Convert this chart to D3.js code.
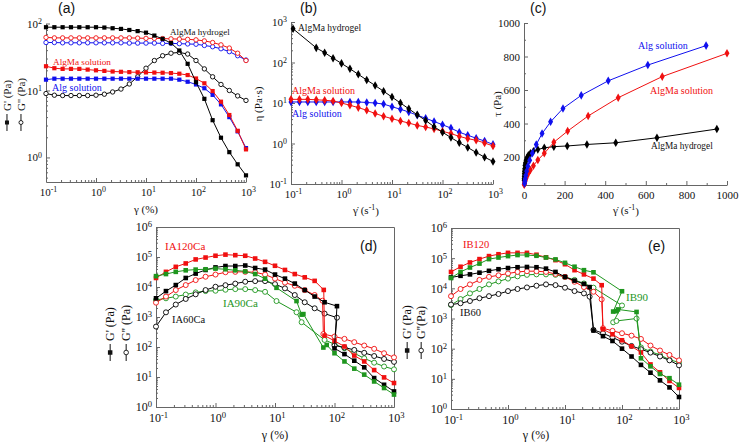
<!DOCTYPE html>
<html><head><meta charset="utf-8">
<script src="https://cdn.jsdelivr.net/npm/d3@7"></script>
<style>body{margin:0;background:#fff}svg{display:block}
.serif{font-family:"Liberation Serif","Times New Roman","DejaVu Serif",serif}
.sans{font-family:"Liberation Sans",Arial,"DejaVu Sans",sans-serif}
</style>
</head><body>
<svg id="c" width="739" height="444"></svg>
<script>
// ---------------- DATA ----------------
const grid = [0.1,0.147,0.215,0.316,0.464,0.681,1,1.47,2.15,3.16,4.64,6.81,10,14.7,21.5,31.6,46.4,68.1,100,147,215,316,464,681,1000];

// (a) amplitude sweep
const aHydroGp  = [88,88,88,88,88,88,88,87,85,83,80,77,73,66,59,51,39.5,25,13.3,7.5,3.6,1.97,1.2,0.79,0.54];
const aHydroGpp = [9,8.5,8.4,8.4,8.4,8.4,8.5,8.8,9.5,10.5,12.5,16,21.5,28,33,36,37,35,28,21,16,12.3,10,8.3,7.1];
const aAlgMaGp  = [23,21.5,21,21,21,20.5,20,19.6,19.2,19,18.8,18.7,18.6,18.5,18.4,18.2,17.8,17,15.1,12.8,9.8,6.8,4.3,2.5,1.32];
const aAlgMaGpp = [62,61,61,61,61,61,61,61,61,61,61,60.5,60,60,59.5,59,58.5,58,57,55,52,48,43,36,28];
const aAlgGp    = [14.5,15,15,15,15,15,15,15,15,15,15,15,15,15,15,15,14.5,13.5,12.3,10.8,8.6,6.2,4.0,2.45,1.38];
const aAlgGpp   = [52,52,51.5,51.5,51.5,51.5,51.5,51.5,51.5,51.5,51,51,51,51,50.5,50.5,50,49.5,49,47,45,42,38,33,28.5];

// (b) viscosity
const bHydroX = [0.11,0.316,0.464,0.681,1,1.47,2.15,3.16,4.64,6.81,10,14.7,21.5,31.6,46.4,68.1,100,147,215,316,464,681,1000];
const bHydro  = [680,230,175,128,95,70,51,37,27,19.5,14,10,7.2,5.1,3.7,2.6,1.9,1.4,1.05,0.8,0.6,0.46,0.36];
const bAlgMa  = [12.3,12.3,12.3,12.0,11.7,11.2,10.0,8.8,7.7,6.6,5.5,4.7,4.1,3.6,3.2,2.8,2.55,2.3,2.0,1.76,1.5,1.32,1.2,1.03,0.87];
const bAlg    = [10.6,10.6,10.6,10.6,10.6,10.6,10.6,10.6,10.6,10.3,10,9.4,8.1,7.0,6.0,5.0,4.2,3.5,2.9,2.4,1.9,1.6,1.35,1.15,0.95];

// (c) flow curves
const cAlgX    = [897,610,415,282,192,131,89,60.5,41.2,28,19,13,8.8,6,4.1,2.8];
const cAlg     = [865,749,655,568,490,410,340,275,222,180,145,115,90,70,55,42];
const cAlgMaX  = [1000,681,464,316,215,147,100,68.1,46.4,31.6,21.5,14.7,10,6.81,4.64,3.16,2.15,1.47,1];
const cAlgMa   = [819,680,554,445,355,288,222,182,148,122,103,87,73,63,54,47,42,38,35];
const cHydroX  = [950,655,452,310,213,147,100,68.1,46.4,31.6,21.5,14.7,10,6.81,4.64,3.16,2.15,1.47,1,0.681,0.464];
const cHydro   = [367,315,285,275,266,262,255,245,235,222,210,195,180,165,150,130,115,100,85,72,62];

// (d) IA series
const dIA120GpX  = [0.1,0.147,0.215,0.316,0.464,0.681,1,1.47,2.15,3.16,4.64,6.81,10,14.7,21.5,31.6,46.4,66,68,100,147,215,316,464,681,1000];
const dIA120Gp   = [2.0e4,3.2e4,4.7e4,6.1e4,8.3e4,9.6e4,1.1e5,1.2e5,1.15e5,1.1e5,8.9e4,6.9e4,5.1e4,3.7e4,2.7e4,2.1e4,1.6e4,8.0e3,240,160,104,52,33,17,9.7,6.3];
const dIA120GppX = [0.1,0.147,0.215,0.316,0.464,0.681,1,1.47,2.15,3.16,4.64,6.81,10,14.7,21.5,31.6,46.4,63,65,100,147,215,316,464,681,1000];
const dIA120Gpp  = [3.0e3,4.8e3,7.9e3,1.16e4,1.7e4,2.2e4,2.6e4,3.1e4,3.2e4,3.2e4,3.1e4,2.6e4,1.9e4,1.4e4,1.1e4,7.9e3,5.4e3,3.5e3,270,223,187,145,112,87,62,45];
const dIA60X     = [0.1,0.147,0.215,0.316,0.464,0.681,1,1.47,2.15,3.16,4.64,6.81,10,14.7,21.5,31.6,46.4,68.1,110,100,147,215,316,464,681,1000];
const dIA60Gp    = [4.2e3,7.3e3,1.16e4,2.0e4,2.8e4,3.7e4,4.5e4,5.0e4,5.0e4,5.2e4,4.3e4,3.8e4,2.6e4,1.9e4,1.3e4,7.9e3,4.8e3,3.1e3,2.3e3,90,58,35,21,9.2,5.5,3.3];
const dIA60Gpp   = [480,1.43e3,2.6e3,4.0e3,5.7e3,7.9e3,1.02e4,1.15e4,1.3e4,1.5e4,1.57e4,1.57e4,1.25e4,9e3,5.4e3,3.1e3,1.95e3,1.3e3,950,112,96,80,64,50,40,32];
const dIA90GpX   = [0.1,0.147,0.215,0.316,0.464,0.681,1,1.47,2.15,3.16,4.64,6.81,10.6,23,28,30,65,74,100,147,215,316,464,681,1000];
const dIA90Gp    = [2.3e4,2.7e4,3.2e4,3.6e4,3.8e4,3.9e4,4.1e4,3.9e4,3.6e4,3.3e4,2.7e4,1.9e4,9.4e3,3.4e3,1.2e3,1.25e3,96,117,62,33,19,12,7.1,4.3,2.6];
const dIA90GppX  = [0.1,0.147,0.215,0.316,0.464,0.681,1,1.47,2.15,3.16,4.64,6.81,10.6,23,28,68,100,147,215,316,464,681,1000];
const dIA90Gpp   = [3.7e3,4.2e3,4.8e3,5.6e3,6.6e3,7.3e3,7.5e3,8.1e3,8.5e3,8.5e3,7.9e3,6.9e3,3.4e3,1.44e3,670,172,124,91,62,42,30,22.4,18];

// (e) IB series
const eIB120X    = [0.1,0.147,0.215,0.316,0.464,0.681,1,1.47,2.15,3.16,4.64,6.81,10,14.7,21.5,31.6,44,46.4,68.1,100,147,215,316,464,681,1000];
const eIB120Gp   = [3.5e4,5.2e4,7.2e4,9.3e4,1.17e5,1.35e5,1.5e5,1.5e5,1.5e5,1.3e5,1.07e5,8.6e4,6.3e4,4.0e4,2.9e4,2.1e4,1.27e4,440,300,190,120,75,30,16.5,8.5,5.0];
const eIB120Gpp  = [5.5e3,9.5e3,1.35e4,1.9e4,2.4e4,2.7e4,3.1e4,3.5e4,3.7e4,3.7e4,3.5e4,3.0e4,2.4e4,1.65e4,1.1e4,7.7e3,4.3e3,475,390,325,270,210,127,87,62,41];
const eIB60X     = [0.1,0.147,0.215,0.316,0.464,0.681,1,1.47,2.15,3.16,4.64,6.81,10,14.7,21.5,27,31.6,46.4,68.1,100,147,215,316,464,681,1000];
const eIB60Gp    = [2.3e4,2.6e4,2.9e4,3.3e4,3.8e4,4.3e4,4.7e4,5.0e4,5.1e4,5.0e4,4.5e4,3.5e4,2.4e4,1.8e4,1.4e4,1.1e4,400,260,180,100,55,29,16,8.9,5.2,2.5];
const eIB60Gpp   = [2.9e3,3.2e3,3.8e3,4.7e3,5.5e3,6.5e3,8.1e3,9.5e3,1.07e4,1.22e4,1.35e4,1.28e4,1.05e4,8.1e3,6.8e3,5.3e3,420,325,235,170,123,96,74,55,41,28];
const eIB90GpX   = [0.1,0.147,0.215,0.316,0.464,0.681,1,1.47,2.15,3.16,4.64,6.81,10,14.7,21.5,31.6,100,70,80,85,180,215,316,464,681,1000];
const eIB90Gp    = [2.2e4,3.5e4,4.9e4,6.6e4,9.3e4,1.05e5,1.17e5,1.27e5,1.27e5,1.2e5,1.05e5,9.1e4,7.0e4,5.2e4,4.0e4,3.4e4,8.0e3,1.7e3,1.75e3,2.0e3,1.65e3,48,26,14.5,10.5,6.4];
const eIB90GppX  = [0.1,0.147,0.215,0.316,0.464,0.681,1,1.47,2.15,3.16,4.64,6.81,10,14.7,21.5,31.6,100,70,80,180,215,316,464,681,1000];
const eIB90Gpp   = [2.8e3,4.4e3,6.8e3,9.5e3,1.35e4,1.7e4,2.1e4,2.5e4,2.8e4,2.9e4,2.9e4,2.8e4,2.4e4,1.9e4,1.45e4,1.05e4,2.7e3,750,830,1.0e3,110,80,62,43,35];

// ---------------- DRAWING ----------------
const AX = '#666';
const RED = '#f01010', BLUE = '#1010ee', GREEN = '#1e961e', BLACK = '#000';
const svg = d3.select('#c');

function decadeMinors(lo, hi) {
  const out = [];
  for (let e = Math.floor(Math.log10(lo)); e <= Math.ceil(Math.log10(hi)); e++)
    for (let m = 2; m <= 9; m++) { const v = m * Math.pow(10, e); if (v >= lo && v <= hi) out.push(v); }
  return out;
}
function supText(sel) {
  sel.each(function (d) {
    const t = d3.select(this); const e = Math.round(Math.log10(d));
    t.text(null);
    t.append('tspan').text('10');
    t.append('tspan').attr('dy', '-0.45em').attr('font-size', '72%').text(e);
  });
}
function styleAxis(g, fs) {
  g.attr('font-family', null).attr('font-size', null);
  g.select('.domain').attr('stroke', AX);
  g.selectAll('.tick line').attr('stroke', AX);
  g.selectAll('.tick text').attr('fill', '#111').attr('class', 'serif').style('font-size', fs + 'px');
}
function axes(g, x, y, o) {
  const [x0, x1] = x.range(), [y0, y1] = y.range();
  const fs = o.fs;
  const xa = g.append('g').attr('transform', `translate(0,${y0})`)
    .call(d3.axisBottom(x).tickValues(o.xMajor).tickSizeInner(-4).tickSizeOuter(0).tickPadding(o.xPad || 6)
      .tickFormat(o.xLog ? null : d3.format('d')));
  styleAxis(xa, fs);
  if (o.xLog) { supText(xa.selectAll('.tick text')); xa.selectAll('.tick text').attr('dx', '2'); }
  const xm = g.append('g').attr('transform', `translate(0,${y0})`)
    .call(d3.axisBottom(x).tickValues(o.xMinor).tickSize(-2).tickFormat(''));
  xm.select('.domain').remove(); xm.selectAll('line').attr('stroke', AX);

  const ya = g.append('g').attr('transform', `translate(${x0},0)`)
    .call(d3.axisLeft(y).tickValues(o.yMajor).tickSizeInner(-4).tickSizeOuter(0).tickPadding(o.yPad || 4)
      .tickFormat(o.yLog ? null : d3.format('d')));
  styleAxis(ya, fs);
  if (o.yLog) supText(ya.selectAll('.tick text'));
  const ym = g.append('g').attr('transform', `translate(${x0},0)`)
    .call(d3.axisLeft(y).tickValues(o.yMinor).tickSize(-2).tickFormat(''));
  ym.select('.domain').remove(); ym.selectAll('line').attr('stroke', AX);

  if (o.frame) {
    const t = g.append('g').attr('transform', `translate(0,${y1})`)
      .call(d3.axisTop(x).tickValues([]).tickSizeOuter(0));
    t.select('.domain').attr('stroke', AX);
    const r = g.append('g').attr('transform', `translate(${x1},0)`)
      .call(d3.axisRight(y).tickValues([]).tickSizeOuter(0));
    r.select('.domain').attr('stroke', AX);
  }
}
function series(g, x, y, xs, ys, color, shape, filled, ms) {
  const pts = xs.map((v, i) => [v, ys[i]]);
  g.append('path').datum(pts)
    .attr('d', d3.line().x(d => x(d[0])).y(d => y(d[1])))
    .attr('fill', 'none').attr('stroke', color).attr('stroke-width', 1);
  const sel = g.append('g').selectAll('path').data(pts).join('path')
    .attr('transform', d => `translate(${x(d[0])},${y(d[1])})`);
  if (shape === 'square') sel.attr('d', d3.symbol(d3.symbolSquare, ms * ms)());
  else if (shape === 'circle') sel.attr('d', d3.symbol(d3.symbolCircle, Math.PI * ms * ms)());
  else sel.attr('d', d3.symbol(d3.symbolDiamond, ms * ms)());
  sel.attr('fill', filled ? color : '#fff').attr('stroke', color).attr('stroke-width', filled ? 0 : 0.9);
}
function label(g, x, y, txt, color, fs, anchor, cls) {
  return g.append('text').attr('x', x).attr('y', y).attr('fill', color)
    .attr('class', cls || 'serif').style('font-size', fs + 'px')
    .attr('text-anchor', anchor || 'start').text(txt);
}
function vLabel(g, cx, cy, txt, fs) {
  g.append('text').attr('transform', `translate(${cx},${cy}) rotate(-90)`)
    .attr('text-anchor', 'middle').attr('class', 'serif').style('font-size', fs + 'px')
    .attr('fill', '#111').text(txt);
}
function legendLabel(g, bx, bottom, txt, filled, fs, sq, r) {
  const grp = g.append('g').attr('transform', `translate(${bx},${bottom}) rotate(-90)`);
  const v = -0.32 * fs;
  grp.append('line').attr('x1', 0).attr('x2', 17).attr('y1', v).attr('y2', v).attr('stroke', '#111').attr('stroke-width', 1);
  if (filled) grp.append('rect').attr('x', 8.5 - sq / 2).attr('y', v - sq / 2).attr('width', sq).attr('height', sq).attr('fill', '#111');
  else grp.append('circle').attr('cx', 8.5).attr('cy', v).attr('r', r).attr('fill', '#fff').attr('stroke', '#111').attr('stroke-width', 0.9);
  grp.append('text').attr('x', 20).attr('y', 0).attr('class', 'serif').style('font-size', fs + 'px').attr('fill', '#111').text(txt);
}
function gammaDotTitle(g, cx, by, fs) {
  const t = g.append('text').attr('x', cx).attr('y', by).attr('text-anchor', 'middle')
    .attr('class', 'serif').style('font-size', fs + 'px').attr('fill', '#111');
  t.append('tspan').text('γ\u0307 (s');
  t.append('tspan').attr('dy', '-0.45em').style('font-size', '72%').text('-1');
  t.append('tspan').attr('dy', '0.45em').text(')');
}
const logMaj = [0.1, 1, 10, 100, 1000];

// ---- Panel (a) ----
{
  const g = svg.append('g');
  const x = d3.scaleLog([0.1, 1000], [46, 246]);
  const y = d3.scaleLog([0.43, 100], [182, 23.5]);
  axes(g, x, y, { fs: 11, xLog: true, yLog: true, xMajor: logMaj, xMinor: decadeMinors(0.1, 1000),
    yMajor: [1, 10, 100], yMinor: decadeMinors(0.43, 100), xPad: 6, yPad: 4 });
  series(g, x, y, grid, aAlgGpp, BLUE, 'circle', false, 2.2);
  series(g, x, y, grid, aAlgMaGpp, RED, 'circle', false, 2.2);
  series(g, x, y, grid, aHydroGpp, BLACK, 'circle', false, 2.2);
  series(g, x, y, grid, aAlgGp, BLUE, 'square', true, 4.2);
  series(g, x, y, grid, aAlgMaGp, RED, 'square', true, 4.2);
  series(g, x, y, grid, aHydroGp, BLACK, 'square', true, 4.2);
  label(g, 170, 35, 'AlgMa hydrogel', '#111', 9);
  label(g, 53, 65, 'AlgMa solution', RED, 9.2);
  label(g, 52, 91, 'Alg solution', BLUE, 10);
  label(g, 146, 213, 'γ (%)', '#111', 11, 'middle');
  legendLabel(g, 10.5, 131, "G' (Pa)", true, 11, 4, 2);
  legendLabel(g, 24.5, 131, "G'' (Pa)", false, 11, 4, 2);
  label(g, 58, 13, '(a)', '#111', 14, 'start', 'sans');
}
// ---- Panel (b) ----
{
  const g = svg.append('g');
  const x = d3.scaleLog([0.1, 1000], [291, 493]);
  const y = d3.scaleLog([0.1, 1000], [184, 22]);
  axes(g, x, y, { fs: 11, xLog: true, yLog: true, xMajor: logMaj, xMinor: decadeMinors(0.1, 1000),
    yMajor: [0.1, 1, 10, 100, 1000], yMinor: decadeMinors(0.1, 1000), xPad: 6, yPad: 4 });
  series(g, x, y, grid, bAlg, BLUE, 'diamond', true, 4.6);
  series(g, x, y, grid, bAlgMa, RED, 'diamond', true, 4.6);
  series(g, x, y, bHydroX, bHydro, BLACK, 'diamond', true, 4.6);
  label(g, 298, 31, 'AlgMa hydrogel', '#111', 9.5);
  label(g, 292, 93.5, 'AlgMa solution', RED, 10);
  label(g, 292, 116.5, 'Alg solution', BLUE, 10);
  vLabel(g, 262, 104, 'η (Pa·s)', 11);
  gammaDotTitle(g, 366, 214, 11);
  label(g, 300, 13, '(b)', '#111', 14, 'start', 'sans');
}
// ---- Panel (c) ----
{
  const g = svg.append('g');
  const x = d3.scaleLinear([0, 1000], [524, 727]);
  const y = d3.scaleLinear([33, 1000], [185, 23]);
  axes(g, x, y, { fs: 11, xLog: false, yLog: false, xMajor: [0, 200, 400, 600, 800, 1000],
    xMinor: [100, 300, 500, 700, 900], yMajor: [200, 400, 600, 800, 1000], yMinor: [100, 300, 500, 700, 900],
    xPad: 6, yPad: 4 });
  series(g, x, y, cHydroX, cHydro, BLACK, 'diamond', true, 4.6);
  series(g, x, y, cAlgMaX, cAlgMa, RED, 'diamond', true, 4.6);
  series(g, x, y, cAlgX, cAlg, BLUE, 'diamond', true, 4.6);
  label(g, 638, 48.5, 'Alg solution', BLUE, 10);
  label(g, 650, 93.5, 'AlgMa solution', RED, 10);
  label(g, 651, 149, 'AlgMa hydrogel', '#111', 9.3);
  vLabel(g, 501, 104, 'τ (Pa)', 11);
  gammaDotTitle(g, 626, 214, 11);
  label(g, 530, 13, '(c)', '#111', 14, 'start', 'sans');
}
// ---- Panel (d) ----
{
  const g = svg.append('g');
  const x = d3.scaleLog([0.1, 1000], [156, 394]);
  const y = d3.scaleLog([1, 1e6], [407, 227]);
  axes(g, x, y, { fs: 12, xLog: true, yLog: true, xMajor: logMaj, xMinor: decadeMinors(0.1, 1000),
    yMajor: [1, 10, 100, 1e3, 1e4, 1e5, 1e6], yMinor: decadeMinors(1, 1e6), frame: true, xPad: 6, yPad: 4 });
  series(g, x, y, dIA90GppX, dIA90Gpp, GREEN, 'circle', false, 2.5);
  series(g, x, y, dIA60X, dIA60Gpp, BLACK, 'circle', false, 2.5);
  series(g, x, y, dIA120GppX, dIA120Gpp, RED, 'circle', false, 2.5);
  series(g, x, y, dIA120GpX, dIA120Gp, RED, 'square', true, 4.6);
  series(g, x, y, dIA60X, dIA60Gp, BLACK, 'square', true, 4.6);
  series(g, x, y, dIA90GpX, dIA90Gp, GREEN, 'square', true, 4.6);
  label(g, 165, 250, 'IA120Ca', RED, 11);
  label(g, 223, 307, 'IA90Ca', GREEN, 11);
  label(g, 172, 323, 'IA60Ca', '#111', 10.5);
  label(g, 275, 439, 'γ (%)', '#111', 12, 'middle');
  legendLabel(g, 114, 361, "G' (Pa)", true, 12, 4.5, 2.3);
  legendLabel(g, 130, 361, "G'' (Pa)", false, 12, 4.5, 2.3);
  label(g, 360, 251, '(d)', '#111', 14, 'start', 'sans');
}
// ---- Panel (e) ----
{
  const g = svg.append('g');
  const x = d3.scaleLog([0.1, 1000], [451, 679]);
  const y = d3.scaleLog([1, 1e6], [409, 228]);
  axes(g, x, y, { fs: 12, xLog: true, yLog: true, xMajor: logMaj, xMinor: decadeMinors(0.1, 1000),
    yMajor: [1, 10, 100, 1e3, 1e4, 1e5, 1e6], yMinor: decadeMinors(1, 1e6), frame: true, xPad: 6, yPad: 4 });
  series(g, x, y, eIB90GppX, eIB90Gpp, GREEN, 'circle', false, 2.5);
  series(g, x, y, eIB60X, eIB60Gpp, BLACK, 'circle', false, 2.5);
  series(g, x, y, eIB120X, eIB120Gpp, RED, 'circle', false, 2.5);
  series(g, x, y, eIB120X, eIB120Gp, RED, 'square', true, 4.6);
  series(g, x, y, eIB60X, eIB60Gp, BLACK, 'square', true, 4.6);
  series(g, x, y, eIB90GpX, eIB90Gp, GREEN, 'square', true, 4.6);
  label(g, 463, 248, 'IB120', RED, 10.5);
  label(g, 626, 301, 'IB90', GREEN, 11);
  label(g, 460, 316, 'IB60', '#111', 10.5);
  label(g, 536, 439, 'γ (%)', '#111', 12, 'middle');
  legendLabel(g, 411, 359, "G' (Pa)", true, 12, 4.5, 2.3);
  legendLabel(g, 425, 359, "G''(Pa)", false, 12, 4.5, 2.3);
  label(g, 648, 251, '(e)', '#111', 14, 'start', 'sans');
}
</script>
</body></html>
